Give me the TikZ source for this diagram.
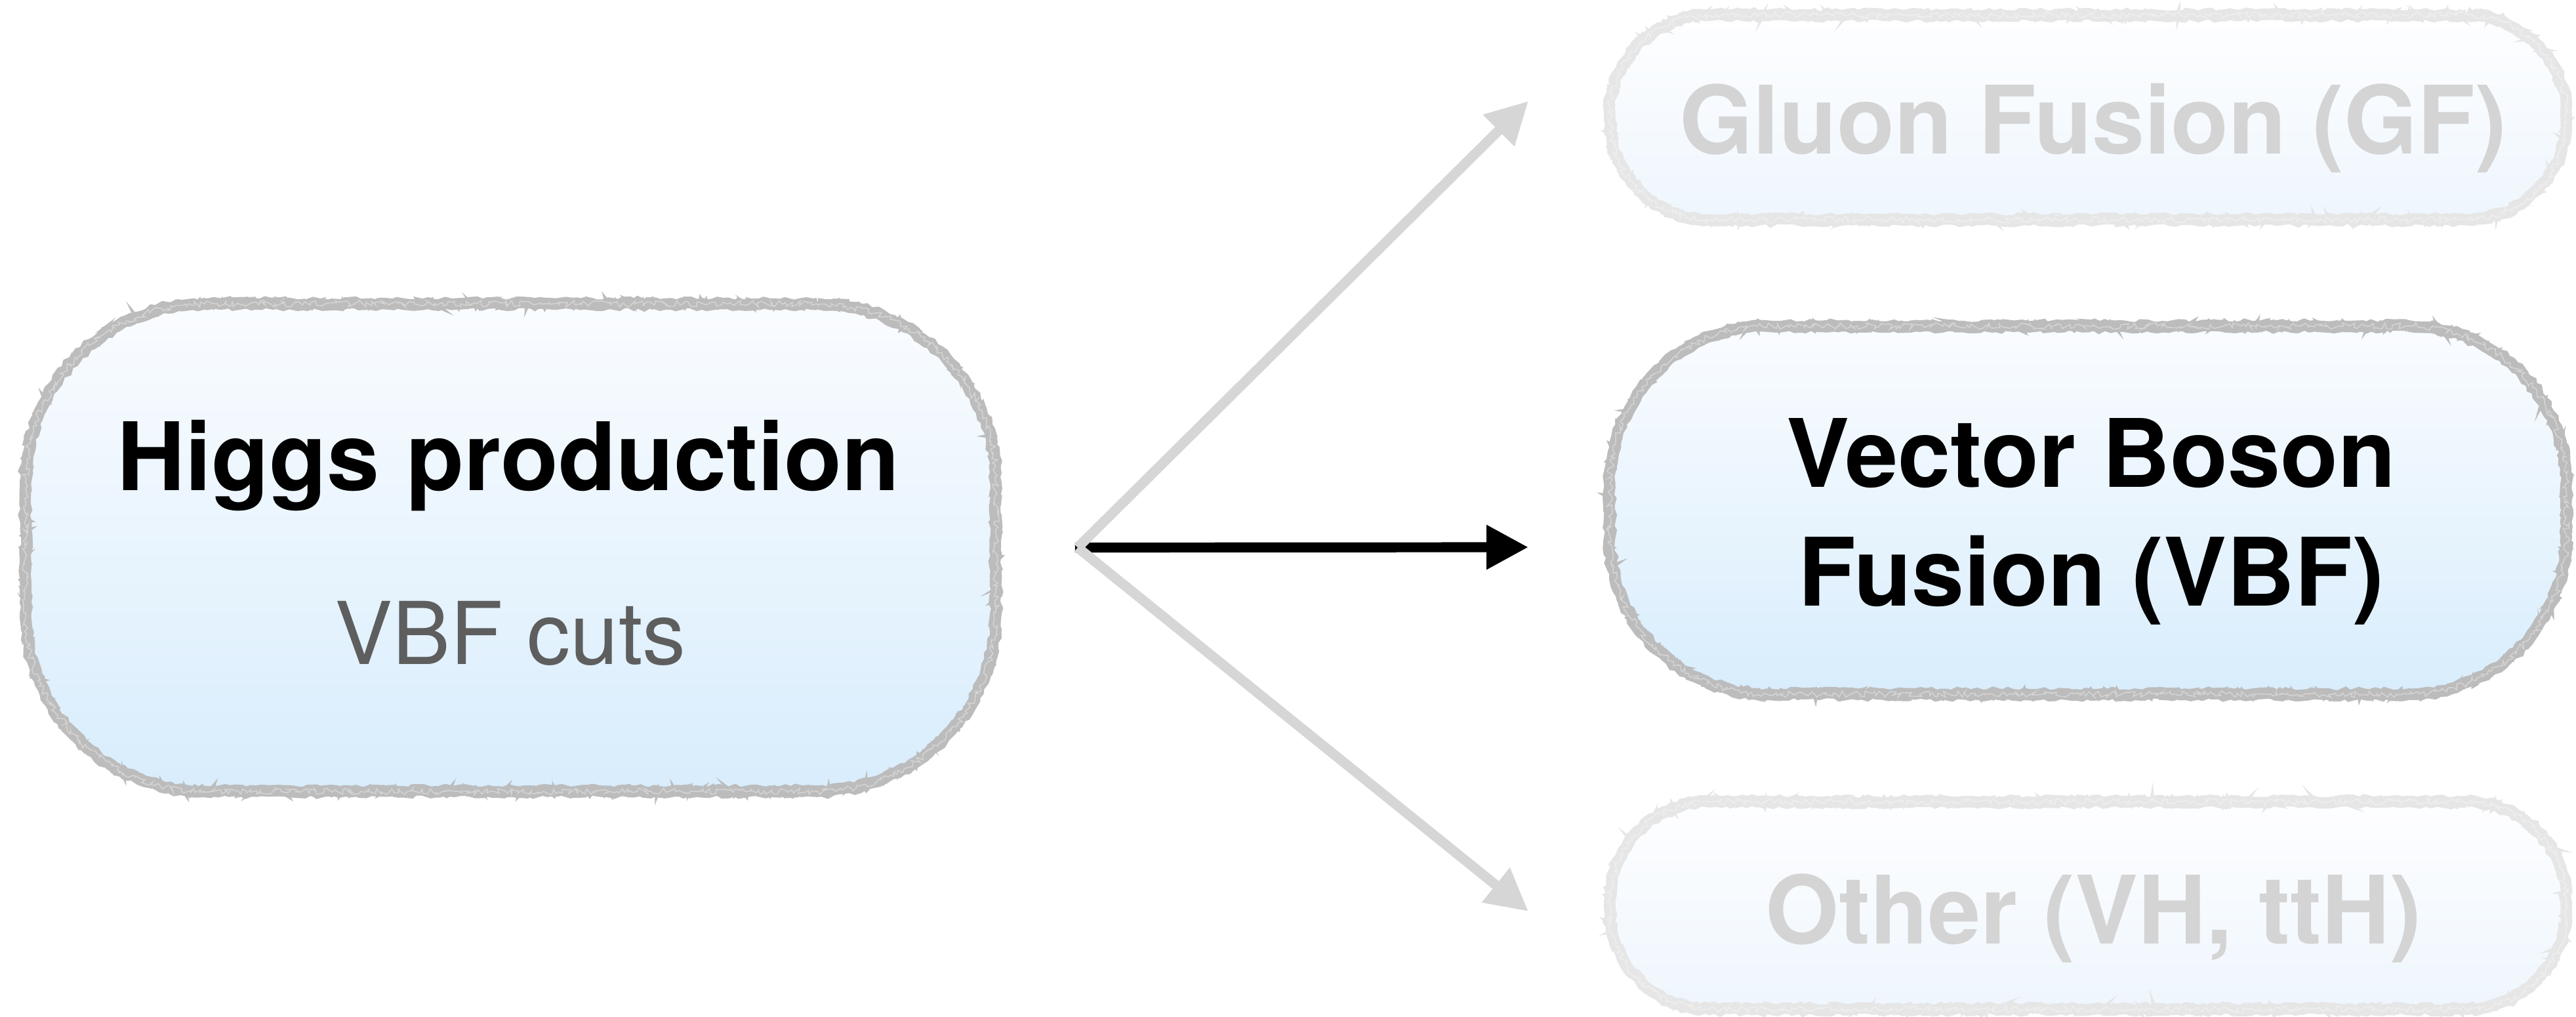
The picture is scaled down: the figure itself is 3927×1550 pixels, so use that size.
\documentclass[tikz,border=0pt]{standalone}
\usepackage{fontspec}
\setsansfont{TeX Gyre Heros}
\usetikzlibrary{arrows.meta,decorations.pathmorphing}

\definecolor{inkgray}{HTML}{BCBCBC}
\definecolor{palegray}{HTML}{E6E6E6}
\definecolor{boxtop}{HTML}{FAFCFF}
\definecolor{boxbot}{HTML}{D8EDFC}
\definecolor{fadetop}{HTML}{FEFEFF}
\definecolor{fadebot}{HTML}{EEF6FD}
\definecolor{fadetext}{HTML}{D4D4D4}
\definecolor{subtext}{HTML}{5E5E5E}
\definecolor{fadearrow}{HTML}{D6D6D6}

\tikzset{
  % hand-drawn chalk outline: a few jittered strokes on top of each other
  chalk/.style={
    postaction={sharp corners, draw=#1, line width=4.4pt, decorate,
      decoration={random steps, segment length=2pt, amplitude=0.6pt}},
    postaction={sharp corners, draw=#1, line width=1.3pt, decorate,
      decoration={random steps, segment length=1.5pt, amplitude=2pt}},
    postaction={sharp corners, draw=#1, line width=0.7pt, decorate,
      decoration={random steps, segment length=3pt, amplitude=2.5pt}},
    postaction={sharp corners, draw=white, opacity=0.35, line width=0.4pt,
      decorate, decoration={random steps, segment length=1pt, amplitude=1.2pt}}
  },
  procbox/.style={rectangle, inner sep=0pt, rounded corners=#1,
    top color=boxtop, bottom color=boxbot, chalk=inkgray},
  fadebox/.style={rectangle, inner sep=0pt, rounded corners=#1,
    top color=fadetop, bottom color=fadebot, chalk=palegray},
  bigtxt/.style={font=\fontsize{36}{43}\selectfont\sffamily\bfseries,
    inner sep=0pt, anchor=base},
  subtxt/.style={font=\fontsize{33}{40}\selectfont\sffamily,
    text=subtext, inner sep=0pt, anchor=base},
  flow/.style={line width=3.8pt, -{Triangle[length=16pt,width=16pt]}},
  fadeflow/.style={flow, draw=fadearrow},
}

\begin{document}
\begin{tikzpicture}[x=0.25pt, y=-0.25pt]
\pgfmathsetseed{7}
\useasboundingbox (0,0) rectangle (3927,1550);

% source box
\node[procbox=68pt, minimum width=369.75pt, minimum height=185.75pt]
  (higgsbox) at (778.5,834.5) {};
\node[bigtxt] (higgslbl) at (775,747) {Higgs production};
\node[subtxt] (cutslbl) at (778,1012) {VBF cuts};

% target boxes
\node[fadebox=38pt, minimum width=364.5pt, minimum height=78pt]
  (gfbox) at (3183,179) {};
\node[bigtxt, text=fadetext] (gflbl) at (3191,235) {Gluon Fusion (GF)};

\node[procbox=60pt, minimum width=364.5pt, minimum height=140.25pt]
  (vbfbox) at (3183,777.5) {};
\node[bigtxt] (vbflblA) at (3188,742) {Vector Boson};
\node[bigtxt] (vbflblB) at (3188,923) {Fusion (VBF)};

\node[fadebox=38pt, minimum width=364.5pt, minimum height=79pt]
  (otherbox) at (3183,1380) {};
\node[bigtxt, text=fadetext] (otherlbl) at (3191,1438) {Other (VH, ttH)};

% branching arrows
\path (higgsbox.east) ++(124,0) coordinate (fork);
\coordinate (gfin) at (2330,154);
\coordinate (vbfin) at (2330,834);
\coordinate (otherin) at (2330,1389);

\draw[flow] ([xshift=-1pt]fork) -- (vbfin);
\draw[fadeflow] (fork) -- (gfin);
\draw[fadeflow] (fork) -- (otherin);
\end{tikzpicture}
\end{document}
